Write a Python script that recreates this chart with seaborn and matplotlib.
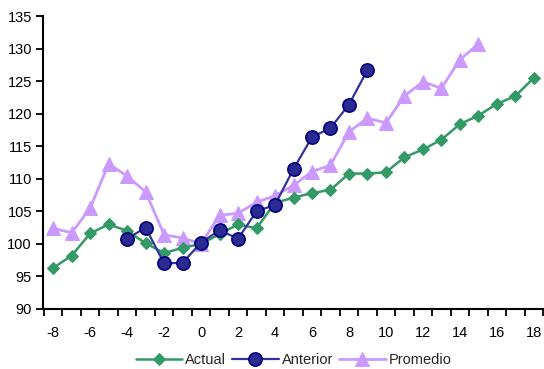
import numpy as np
import pandas as pd
import seaborn as sns
import matplotlib
matplotlib.use("Agg")
import matplotlib.pyplot as plt

# ---- data ----
x_actual = list(range(-8, 19))
actual = [96.3, 98.2, 101.6, 103.0, 102.0, 100.1, 98.6, 99.4, 100.0,
          101.5, 103.0, 102.4, 106.3, 107.1, 107.8, 108.3, 110.8, 110.8,
          111.0, 113.3, 114.5, 116.0, 118.4, 119.7, 121.5, 122.7, 125.5]

x_anterior = list(range(-4, 10))
anterior = [100.8, 102.5, 97.0, 97.1, 100.2, 102.1, 100.8, 105.0, 106.0,
            111.5, 116.4, 117.8, 121.4, 126.7]

x_promedio = list(range(-8, 16))
promedio = [102.4, 101.7, 105.5, 112.3, 110.4, 108.0, 101.4, 100.9, 100.0,
            104.4, 104.7, 106.4, 107.4, 109.0, 111.1, 112.1, 117.2, 119.3,
            118.6, 122.7, 124.9, 123.9, 128.3, 130.7]

labels = ["Actual", "Anterior", "Promedio"]
xtick_vals = list(range(-8, 19, 2))
ytick_vals = list(range(90, 136, 5))

sns.set_theme(style="ticks")
plt.rcParams["font.family"] = ["Liberation Sans", "DejaVu Sans"]

fig = plt.figure(figsize=(5.44, 3.69), dpi=100)
ax = fig.add_axes([43 / 544, 1 - 309 / 369, 1 - 43 / 544, (309 - 16) / 369])

df_a = pd.DataFrame({"x": x_actual, "y": actual})
df_b = pd.DataFrame({"x": x_anterior, "y": anterior})
df_c = pd.DataFrame({"x": x_promedio, "y": promedio})

sns.lineplot(data=df_a, x="x", y="y", ax=ax, color="#339966", lw=1.8,
             marker="D", markersize=6.5, markeredgecolor="#339966",
             markerfacecolor="#339966", label=labels[0], zorder=3)
sns.lineplot(data=df_b, x="x", y="y", ax=ax, color="#333399", lw=1.6,
             marker="o", markersize=9.5, markeredgecolor="#000080",
             markeredgewidth=1.2, markerfacecolor="#2a2a90",
             label=labels[1], zorder=4)
sns.lineplot(data=df_c, x="x", y="y", ax=ax, color="#cc99ff", lw=2.0,
             marker="^", markersize=9.5, markeredgecolor="#cc99ff",
             markerfacecolor="#cc99ff", label=labels[2], zorder=2)

ax.set_xlim(-8.55, 18.55)
ax.set_ylim(90, 135)
ax.set_xlabel("")
ax.set_ylabel("")

# category-style axis: ticks at boundaries, labels at centers
ax.set_xticks(np.arange(-8.5, 19, 1.0))
ax.set_xticklabels([])
ax.set_xticks(xtick_vals, minor=True)
ax.set_xticklabels([str(v) for v in xtick_vals], minor=True)
ax.tick_params(axis="x", which="major", direction="out", length=5, width=1.3,
               color="black", bottom=True)
ax.tick_params(axis="x", which="minor", length=0, pad=12, labelsize=10.5,
               labelcolor="black", bottom=True)
ax.set_yticks(ytick_vals)
ax.set_yticklabels([str(v) for v in ytick_vals])
ax.tick_params(axis="y", direction="out", length=5, width=1.3, color="black",
               labelsize=10.5, labelcolor="black", left=True, pad=3)

for s in ["top", "right"]:
    ax.spines[s].set_visible(False)
for s in ["left", "bottom"]:
    ax.spines[s].set_color("black")
    ax.spines[s].set_linewidth(1.5)

ax.legend(loc="upper center", bbox_to_anchor=(0.5, -0.13), ncol=3,
          frameon=False, fontsize=10.5, handlelength=3.2, handletextpad=0.2,
          columnspacing=0.4, borderaxespad=0)

fig.savefig("out.png", dpi=100)
